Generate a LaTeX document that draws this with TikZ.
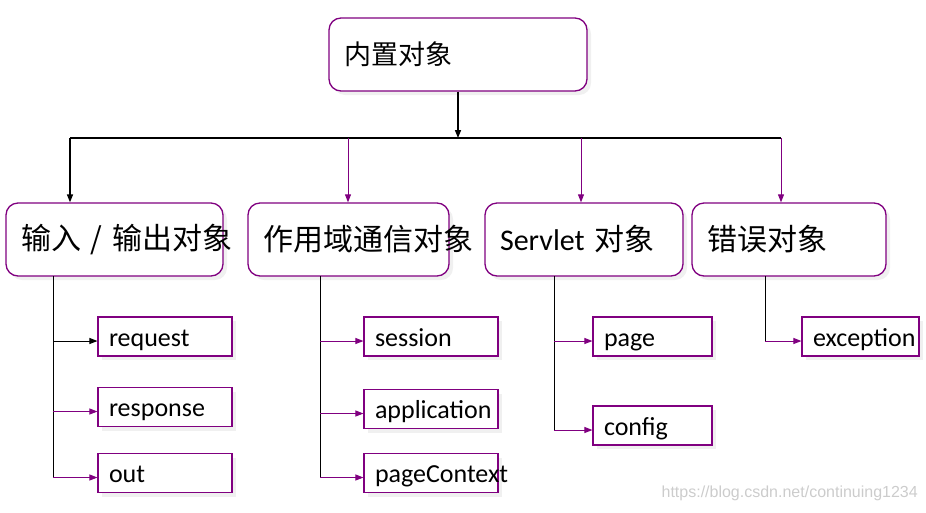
\documentclass[tikz,border=0pt]{standalone}
\usepackage{fontspec}
\setmainfont{Carlito}
\newfontfamily\cjk{Noto Sans CJK SC}
\newfontfamily\urlfont{Liberation Sans}
\usepackage{tikz}
\usetikzlibrary{arrows.meta}
\usetikzlibrary{calc}
\usetikzlibrary{shadows}
\definecolor{boxpurple}{RGB}{128,0,128}

\begin{document}
\begin{tikzpicture}[x=1pt, y=-1pt,
        bigbox/.style={rectangle, rounded corners=12pt,
            draw=boxpurple, line width=1.3pt, fill=white,
            general shadow={fill=black!6, shadow xshift=4pt, shadow yshift=-4pt},
            minimum height=73pt, inner xsep=15pt, inner ysep=0pt,
            align=left, font=\fontsize{30}{36}\selectfont},
        smallbox/.style={rectangle,
            draw=boxpurple, line width=1.1pt, fill=white,
            general shadow={fill=black!6, shadow xshift=4pt, shadow yshift=-4pt},
            minimum height=39pt, inner xsep=11pt, inner ysep=0pt,
            text height=22pt, text depth=3pt,
            align=left, font=\fontsize{26}{30}\selectfont},
        tip/.style={-{Triangle[length=8pt, width=6pt]}}]
        \useasboundingbox (0,0) rectangle (926,512);

        % top level
        \node[bigbox, text width=228pt, font=\fontsize{27}{32}\selectfont]
        (root) at (458,54.5) {\cjk 内置对象};

        % second level
        \node[bigbox, text width=187pt]
        (io) at (114.5,239.5) {\mbox{\cjk 输入 / 输出对象}};
        \node[bigbox, text width=171pt]
        (scope) at (348.5,239.5) {\mbox{\cjk 作用域通信对象}};
        \node[bigbox, text width=168pt]
        (servlet) at (584,239.5) {\mbox{Servlet {\cjk 对象}}};
        \node[bigbox, text width=164pt]
        (error) at (789,239.5) {\mbox{\cjk 错误对象}};

        % third level
        \node[smallbox, text width=112pt] (req) at (165,336.5) {request};
        \node[smallbox, text width=112pt] (resp) at (165,407) {response};
        \node[smallbox, text width=112pt] (out) at (165,473) {out};

        \node[smallbox, text width=112pt] (sess) at (431,336.5) {session};
        \node[smallbox, text width=112pt] (app) at (431,409) {application};
        \node[smallbox, text width=112pt] (pctx) at (431,473) {\mbox{pageContext}};

        \node[smallbox, text width=97pt] (page) at (652.5,336.5) {page};
        \node[smallbox, text width=97pt] (conf) at (652.5,425.5) {config};

        \node[smallbox, text width=95pt] (exc) at (860.5,336.5) {\mbox{exception}};

        % bus
        \coordinate (b1) at (70,138);
        \coordinate (b2) at (348,138);
        \coordinate (b3) at (581,138);
        \coordinate (b4) at (781,138);

        \draw[tip, line width=1.5pt] (root.south) -- (root.south |- b1);
        \draw[line width=2pt] (b1) -- (b4);
        \draw[tip, line width=1.5pt] (b1) -- (b1 |- io.north);
        \foreach \b/\n in {b2/scope, b3/servlet, b4/error}
        {
            \draw[tip, draw=boxpurple, line width=1pt] (\b) -- (\b |- \n.north);
        }

        % trunks
        \coordinate (t1) at (53,276);
        \coordinate (t2) at (320,276);
        \coordinate (t3) at (554,276);
        \coordinate (t4) at (765,276);

        \draw[line width=1pt] (t1) -- ($(t1 |- out.west)+(0,4.5)$);
        \draw[tip, line width=1pt]
        ($(t1 |- req.west)+(0,4.5)$) -- ($(req.west)+(0,4.5)$);
        \foreach \n in {resp, out}
        {
            \draw[tip, draw=boxpurple, line width=1pt]
            ($(t1 |- \n.west)+(0,4.5)$) -- ($(\n.west)+(0,4.5)$);
        }

        \draw[line width=1pt] (t2) -- ($(t2 |- pctx.west)+(0,4.5)$);
        \foreach \n in {sess, app, pctx}
        {
            \draw[tip, draw=boxpurple, line width=1pt]
            ($(t2 |- \n.west)+(0,4.5)$) -- ($(\n.west)+(0,4.5)$);
        }

        \draw[line width=1pt] (t3) -- ($(t3 |- conf.west)+(0,4.5)$);
        \foreach \n in {page, conf}
        {
            \draw[tip, draw=boxpurple, line width=1pt]
            ($(t3 |- \n.west)+(0,4.5)$) -- ($(\n.west)+(0,4.5)$);
        }

        \draw[line width=1pt] (t4) -- ($(t4 |- exc.west)+(0,4.5)$);
        \draw[tip, draw=boxpurple, line width=1pt]
        ($(t4 |- exc.west)+(0,4.5)$) -- ($(exc.west)+(0,4.5)$);

        \node[anchor=east, text=black!20, inner sep=0pt,
            font=\urlfont\fontsize{16}{18}\selectfont]
        (wm) at (918,493) {https://blog.csdn.net/continuing1234};
\end{tikzpicture}
\end{document}
